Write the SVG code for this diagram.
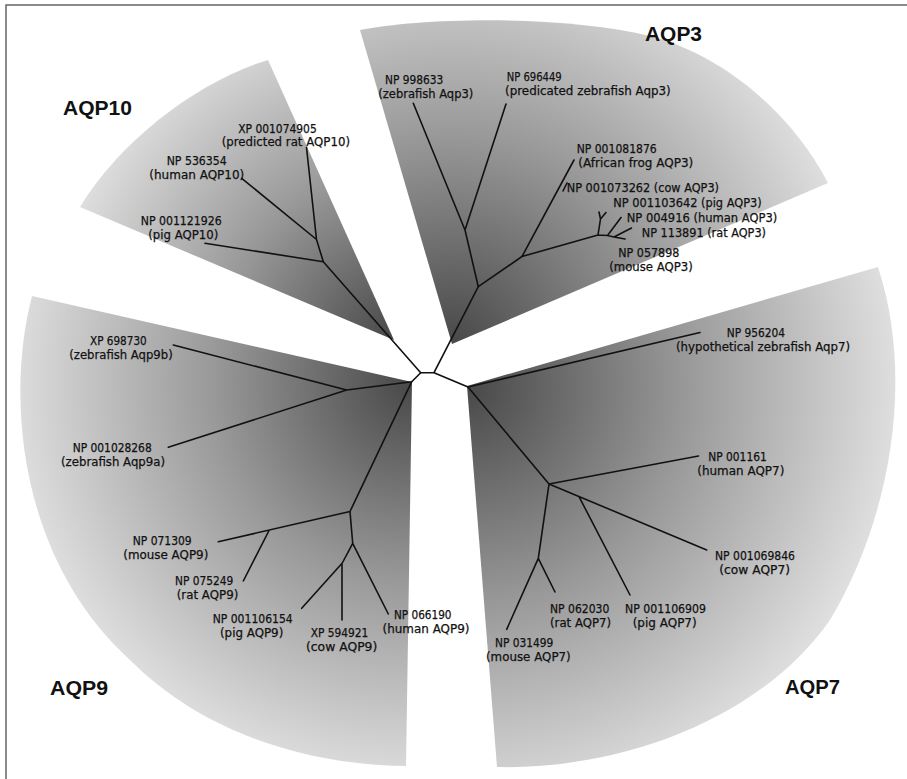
<svg xmlns="http://www.w3.org/2000/svg" width="907" height="779" viewBox="0 0 907 779">
<defs>
<radialGradient id="g3" gradientUnits="userSpaceOnUse" cx="452" cy="344" r="420">
<stop offset="0" stop-color="#484848"/><stop offset="0.5" stop-color="#999"/><stop offset="1" stop-color="#e2e2e2"/>
</radialGradient>
<radialGradient id="g7" gradientUnits="userSpaceOnUse" cx="467" cy="386" r="440">
<stop offset="0" stop-color="#484848"/><stop offset="0.5" stop-color="#999"/><stop offset="1" stop-color="#e2e2e2"/>
</radialGradient>
<radialGradient id="g9" gradientUnits="userSpaceOnUse" cx="412" cy="382" r="400">
<stop offset="0" stop-color="#484848"/><stop offset="0.5" stop-color="#999"/><stop offset="1" stop-color="#dedede"/>
</radialGradient>
<radialGradient id="g10" gradientUnits="userSpaceOnUse" cx="394" cy="340" r="340">
<stop offset="0" stop-color="#484848"/><stop offset="0.5" stop-color="#999"/><stop offset="1" stop-color="#dedede"/>
</radialGradient>
</defs>
<style>
.t{font-family:"DejaVu Sans",sans-serif;font-size:11.5px;fill:#111;stroke:#111;stroke-width:0.25}
.h{font-family:"Liberation Sans",Arial,sans-serif;font-size:21px;font-weight:bold;fill:#111}
.c{fill:none;stroke:#111;stroke-width:1.6;stroke-linecap:round;stroke-linejoin:round}
.f{fill:none;stroke:#666;stroke-width:1.5}
</style>
<rect width="907" height="779" fill="#fff"/>
<path class="f" d="M6,779 L6,5 L907,5"/>
<g id="wedges">
<path id="wedge-aqp10" fill="url(#g10)" d="M394,340 L268,60 C200,80 120,140 80,207 Z"/>
<path id="wedge-aqp3" fill="url(#g3)" d="M452,344 L360,30 C420,18 560,14 650,36 C720,54 790,110 828,183 Z"/>
<path id="wedge-aqp7" fill="url(#g7)" d="M467,386 L878,267 C915,380 890,520 830,620 C760,720 620,770 497,767 Z"/>
<path id="wedge-aqp9" fill="url(#g9)" d="M412,382 L32,296 C5,400 20,560 130,660 C210,740 320,765 406,766 Z"/>
</g>
<g id="connectors" class="c">
<path d="M306.5,147.5 L316.5,239.5 M241.7,178.3 L316.5,239.5 M316.5,239.5 L323.3,261.7 M205,243.3 L323.3,261.7 M323.3,261.7 L420.7,372.7"/>
<path d="M420.7,372.7 L434,372.7 M420.7,372.7 L411.7,381.7 M434,372.7 L478.3,286.7 M434,372.7 L468,387"/>
<path d="M478.3,286.7 L465,230 M465,230 L413.3,103.3 M465,230 L506,104 M478.3,286.7 L522,256.5 M522,256.5 L574,160 M563,191 L567,183 M522,256.5 L598,235 M598,235 L600.5,219 M600.5,219 L599,212 M600.5,219 L606,212.5 M598,235 L607.5,235.5 L614,237 M607.5,235.5 L621,217.5 M614,237 L631.5,228 M614,237 L625,239"/>
<path d="M411.7,381.7 L346.7,390 M346.7,390 L173.3,345 M346.7,390 L168.3,447.3 M411.7,381.7 L350,511.5 M350,511.5 L218.3,541.7 M269.3,530 L243.3,581 M350,511.5 L352.7,543.3 M352.7,543.3 L388.3,614 M352.7,543.3 L342.3,563 M342.3,563 L301.7,608.3 M342,563 L342,620"/>
<path d="M468,387 L700,332.5 M468,387 L549,484 M549,484 L698.5,456 M549,484 L706.7,550 M579,496.6 L630,595 M549,484 L538.3,558.3 M538.3,558.3 L555,592 M538.3,558.3 L506.7,629.3"/>
</g>
<g id="titles">
<text id="title-aqp10" class="h" x="63" y="115" textLength="69" lengthAdjust="spacingAndGlyphs">AQP10</text>
<text id="title-aqp3" class="h" x="645" y="41" textLength="57" lengthAdjust="spacingAndGlyphs">AQP3</text>
<text id="title-aqp9" class="h" x="50" y="695" textLength="58" lengthAdjust="spacingAndGlyphs">AQP9</text>
<text id="title-aqp7" class="h" x="785" y="694" textLength="55" lengthAdjust="spacingAndGlyphs">AQP7</text>
</g>
<g id="node-xp001074905"><text class="t" x="238.3" y="132.5" textLength="78.4" lengthAdjust="spacingAndGlyphs">XP 001074905</text><text class="t" x="221.7" y="146" textLength="128.3" lengthAdjust="spacingAndGlyphs">(predicted rat AQP10)</text></g>
<g id="node-np536354"><text class="t" x="166.7" y="164.5" textLength="60" lengthAdjust="spacingAndGlyphs">NP 536354</text><text class="t" x="149.3" y="178.5" textLength="95" lengthAdjust="spacingAndGlyphs">(human AQP10)</text></g>
<g id="node-np001121926"><text class="t" x="140.7" y="224.5" textLength="81" lengthAdjust="spacingAndGlyphs">NP 001121926</text><text class="t" x="148.3" y="238.5" textLength="70" lengthAdjust="spacingAndGlyphs">(pig AQP10)</text></g>
<g id="node-np998633"><text class="t" x="385" y="83.5" textLength="58.3" lengthAdjust="spacingAndGlyphs">NP 998633</text><text class="t" x="378.3" y="97.5" textLength="95" lengthAdjust="spacingAndGlyphs">(zebrafish Aqp3)</text></g>
<g id="node-np696449"><text class="t" x="506.7" y="81" textLength="55" lengthAdjust="spacingAndGlyphs">NP 696449</text><text class="t" x="505" y="95" textLength="165.7" lengthAdjust="spacingAndGlyphs">(predicated zebrafish Aqp3)</text></g>
<g id="node-np001081876"><text class="t" x="576.7" y="152.5" textLength="80" lengthAdjust="spacingAndGlyphs">NP 001081876</text><text class="t" x="578.3" y="166.5" textLength="115" lengthAdjust="spacingAndGlyphs">(African frog AQP3)</text></g>
<g id="node-np001073262"><text class="t" x="566.7" y="192" textLength="152.3" lengthAdjust="spacingAndGlyphs">NP 001073262 (cow AQP3)</text></g>
<g id="node-np001103642"><text class="t" x="613.3" y="206.5" textLength="148.4" lengthAdjust="spacingAndGlyphs">NP 001103642 (pig AQP3)</text></g>
<g id="node-np004916"><text class="t" x="626.7" y="221.5" textLength="150.6" lengthAdjust="spacingAndGlyphs">NP 004916 (human AQP3)</text></g>
<g id="node-np113891"><text class="t" x="641.7" y="236.5" textLength="124.3" lengthAdjust="spacingAndGlyphs">NP 113891 (rat AQP3)</text></g>
<g id="node-np057898"><text class="t" x="618.3" y="256.5" textLength="61" lengthAdjust="spacingAndGlyphs">NP 057898</text><text class="t" x="609.3" y="270.5" textLength="83.4" lengthAdjust="spacingAndGlyphs">(mouse AQP3)</text></g>
<g id="node-xp698730"><text class="t" x="90" y="345" textLength="56.7" lengthAdjust="spacingAndGlyphs">XP 698730</text><text class="t" x="69.3" y="359" textLength="103.4" lengthAdjust="spacingAndGlyphs">(zebrafish Aqp9b)</text></g>
<g id="node-np001028268"><text class="t" x="72.7" y="452.3" textLength="79" lengthAdjust="spacingAndGlyphs">NP 001028268</text><text class="t" x="61" y="466.3" textLength="104" lengthAdjust="spacingAndGlyphs">(zebrafish Aqp9a)</text></g>
<g id="node-np071309"><text class="t" x="132.7" y="545" textLength="59" lengthAdjust="spacingAndGlyphs">NP 071309</text><text class="t" x="123.3" y="559" textLength="85" lengthAdjust="spacingAndGlyphs">(mouse AQP9)</text></g>
<g id="node-np075249"><text class="t" x="175" y="585" textLength="58.3" lengthAdjust="spacingAndGlyphs">NP 075249</text><text class="t" x="176.7" y="599" textLength="61.6" lengthAdjust="spacingAndGlyphs">(rat AQP9)</text></g>
<g id="node-np001106154"><text class="t" x="212.7" y="623" textLength="80" lengthAdjust="spacingAndGlyphs">NP 001106154</text><text class="t" x="220" y="637" textLength="63.3" lengthAdjust="spacingAndGlyphs">(pig AQP9)</text></g>
<g id="node-xp594921"><text class="t" x="310.7" y="637" textLength="57.6" lengthAdjust="spacingAndGlyphs">XP 594921</text><text class="t" x="306" y="651" textLength="71.3" lengthAdjust="spacingAndGlyphs">(cow AQP9)</text></g>
<g id="node-np066190"><text class="t" x="394" y="619" textLength="57.5" lengthAdjust="spacingAndGlyphs">NP 066190</text><text class="t" x="382.5" y="633" textLength="87" lengthAdjust="spacingAndGlyphs">(human AQP9)</text></g>
<g id="node-np956204"><text class="t" x="726.7" y="336.5" textLength="58.3" lengthAdjust="spacingAndGlyphs">NP 956204</text><text class="t" x="676" y="350.5" textLength="174" lengthAdjust="spacingAndGlyphs">(hypothetical zebrafish Aqp7)</text></g>
<g id="node-np001161"><text class="t" x="708.3" y="460.7" textLength="58.4" lengthAdjust="spacingAndGlyphs">NP 001161</text><text class="t" x="697.3" y="474.7" textLength="87" lengthAdjust="spacingAndGlyphs">(human AQP7)</text></g>
<g id="node-np001069846"><text class="t" x="715" y="560" textLength="80" lengthAdjust="spacingAndGlyphs">NP 001069846</text><text class="t" x="719.3" y="574" textLength="70.7" lengthAdjust="spacingAndGlyphs">(cow AQP7)</text></g>
<g id="node-np001106909"><text class="t" x="625" y="613" textLength="81" lengthAdjust="spacingAndGlyphs">NP 001106909</text><text class="t" x="632.7" y="627" textLength="64" lengthAdjust="spacingAndGlyphs">(pig AQP7)</text></g>
<g id="node-np062030"><text class="t" x="550" y="613" textLength="59.3" lengthAdjust="spacingAndGlyphs">NP 062030</text><text class="t" x="550" y="627" textLength="61" lengthAdjust="spacingAndGlyphs">(rat AQP7)</text></g>
<g id="node-np031499"><text class="t" x="495" y="647" textLength="58.3" lengthAdjust="spacingAndGlyphs">NP 031499</text><text class="t" x="486" y="661" textLength="84.7" lengthAdjust="spacingAndGlyphs">(mouse AQP7)</text></g>
</svg>
